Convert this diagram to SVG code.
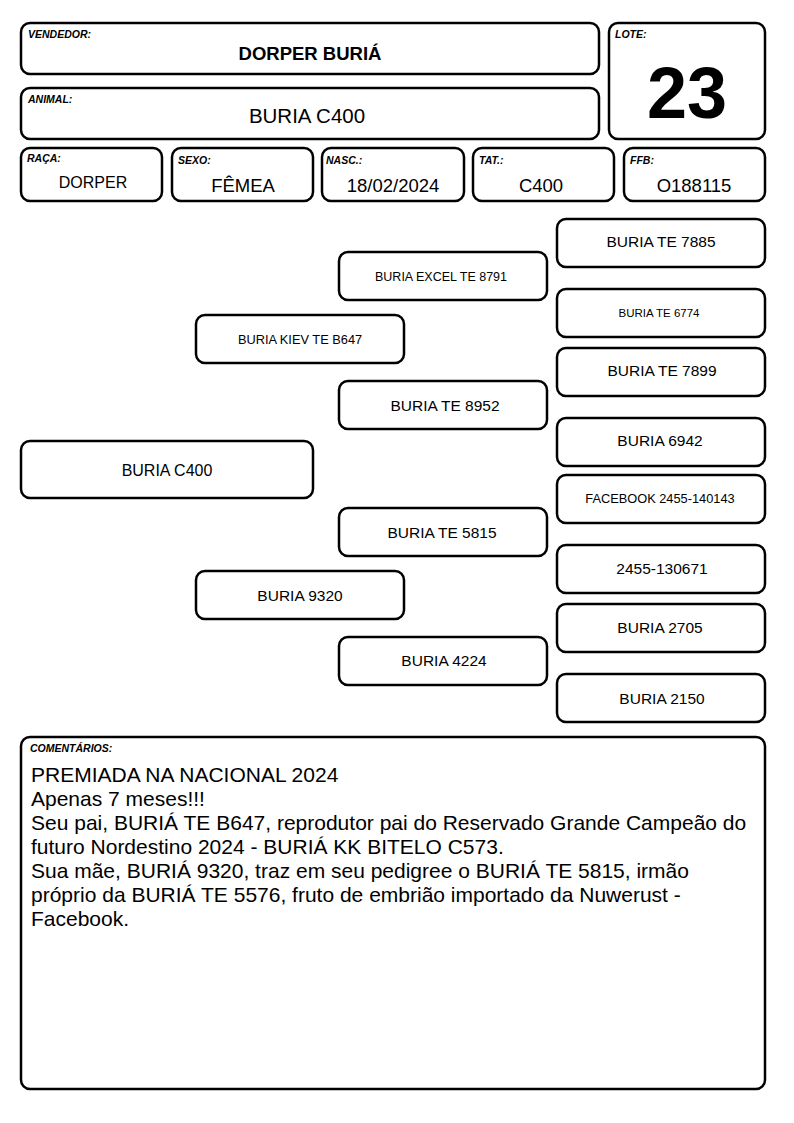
<svg xmlns="http://www.w3.org/2000/svg" width="794" height="1123" viewBox="0 0 794 1123">
<style>
.box{fill:#fff;stroke:#000;stroke-width:2.5}
.lbl{font-family:"Liberation Sans",Arial,sans-serif;font-weight:bold;font-style:italic;font-size:10.5px;fill:#000}
.t{font-family:"Liberation Sans",Arial,sans-serif;fill:#000;text-anchor:middle}
.c{font-family:"Liberation Sans",Arial,sans-serif;fill:#000;font-size:21px}
</style>
<rect width="794" height="1123" fill="#fff"/>
<g id="vendedor"><rect class="box" x="21" y="23" width="578" height="51" rx="9"/><text class="lbl" x="28" y="38">VENDEDOR:</text><text class="t" x="310" y="60" font-size="18.5" font-weight="bold">DORPER BURIÁ</text></g>
<g id="animal"><rect class="box" x="21" y="88" width="578" height="51" rx="9"/><text class="lbl" x="28" y="103">ANIMAL:</text><text class="t" x="307" y="123" font-size="20.5">BURIA C400</text></g>
<g id="lote"><rect class="box" x="609" y="23" width="156" height="116" rx="9"/><text class="lbl" x="615" y="38">LOTE:</text><text class="t" x="687" y="118" font-size="72" font-weight="bold">23</text></g>
<g id="raca"><rect class="box" x="21" y="148" width="141" height="53" rx="9"/><text class="lbl" x="27" y="162">RAÇA:</text><text class="t" x="93" y="188" font-size="16">DORPER</text></g>
<g id="sexo"><rect class="box" x="172" y="148" width="141" height="53" rx="9"/><text class="lbl" x="178" y="164">SEXO:</text><text class="t" x="243" y="192" font-size="18.5">FÊMEA</text></g>
<g id="nasc"><rect class="box" x="322" y="148" width="142" height="53" rx="9"/><text class="lbl" x="326" y="164">NASC.:</text><text class="t" x="393" y="192" font-size="18.5">18/02/2024</text></g>
<g id="tat"><rect class="box" x="473" y="148" width="141" height="53" rx="9"/><text class="lbl" x="479" y="164">TAT.:</text><text class="t" x="541" y="192" font-size="18.5">C400</text></g>
<g id="ffb"><rect class="box" x="624" y="148" width="141" height="53" rx="9"/><text class="lbl" x="630" y="164">FFB:</text><text class="t" x="694" y="192" font-size="18.5">O188115</text></g>
<g id="p-animal"><rect class="box" x="21" y="441" width="292" height="57" rx="9"/><text class="t" x="167" y="476" font-size="16">BURIA C400</text></g>
<g id="p-pai"><rect class="box" x="196" y="315" width="208" height="48" rx="9"/><text class="t" x="300" y="344" font-size="12.8">BURIA KIEV TE B647</text></g>
<g id="p-mae"><rect class="box" x="196" y="571" width="208" height="48" rx="9"/><text class="t" x="300" y="601" font-size="15.5">BURIA 9320</text></g>
<g id="p-avo1"><rect class="box" x="339" y="252" width="208" height="48" rx="9"/><text class="t" x="441" y="281" font-size="12.5">BURIA EXCEL TE 8791</text></g>
<g id="p-avo2"><rect class="box" x="339" y="381" width="208" height="48" rx="9"/><text class="t" x="445" y="411" font-size="15.5">BURIA TE 8952</text></g>
<g id="p-avo3"><rect class="box" x="339" y="508" width="208" height="48" rx="9"/><text class="t" x="442" y="538" font-size="15.5">BURIA TE 5815</text></g>
<g id="p-avo4"><rect class="box" x="339" y="637" width="208" height="48" rx="9"/><text class="t" x="444" y="666" font-size="15.5">BURIA 4224</text></g>
<g id="p-b1"><rect class="box" x="557" y="219" width="208" height="48" rx="9"/><text class="t" x="661" y="247" font-size="15.5">BURIA TE 7885</text></g>
<g id="p-b2"><rect class="box" x="557" y="289" width="208" height="48" rx="9"/><text class="t" x="659" y="317" font-size="11.5">BURIA TE 6774</text></g>
<g id="p-b3"><rect class="box" x="557" y="348" width="208" height="48" rx="9"/><text class="t" x="662" y="376" font-size="15.5">BURIA TE 7899</text></g>
<g id="p-b4"><rect class="box" x="557" y="418" width="208" height="48" rx="9"/><text class="t" x="660" y="446" font-size="15.5">BURIA 6942</text></g>
<g id="p-b5"><rect class="box" x="557" y="475" width="208" height="48" rx="9"/><text class="t" x="660" y="503" font-size="12.8">FACEBOOK 2455-140143</text></g>
<g id="p-b6"><rect class="box" x="557" y="545" width="208" height="48" rx="9"/><text class="t" x="662" y="574" font-size="15.5">2455-130671</text></g>
<g id="p-b7"><rect class="box" x="557" y="604" width="208" height="48" rx="9"/><text class="t" x="660" y="633" font-size="15.5">BURIA 2705</text></g>
<g id="p-b8"><rect class="box" x="557" y="674" width="208" height="48" rx="9"/><text class="t" x="662" y="704" font-size="15.5">BURIA 2150</text></g>
<g id="connectors"></g>
<g id="comentarios"><rect class="box" x="21" y="737" width="744" height="352" rx="9"/><text class="lbl" x="30" y="752">COMENTÁRIOS:</text>
<text class="c"><tspan x="31" y="782">PREMIADA NA NACIONAL 2024</tspan><tspan x="31" y="806">Apenas 7 meses!!!</tspan><tspan x="31" y="830">Seu pai, BURIÁ TE B647, reprodutor pai do Reservado Grande Campeão do</tspan><tspan x="31" y="854">futuro Nordestino 2024 - BURIÁ KK BITELO C573.</tspan><tspan x="31" y="878">Sua mãe, BURIÁ 9320, traz em seu pedigree o BURIÁ TE 5815, irmão</tspan><tspan x="31" y="902">próprio da BURIÁ TE 5576, fruto de embrião importado da Nuwerust -</tspan><tspan x="31" y="926">Facebook.</tspan></text></g>
</svg>
